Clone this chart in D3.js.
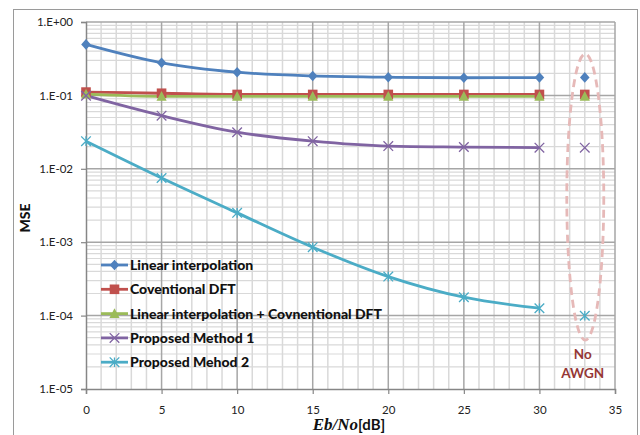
<!DOCTYPE html>
<html>
<head>
<meta charset="utf-8">
<script src="https://cdn.jsdelivr.net/npm/d3@7/dist/d3.min.js"></script>
<style>
  html, body { margin: 0; padding: 0; background: #fff; }
  svg { display: block; }
</style>
</head>
<body>
<div id="chart"></div>
<script>
// Eb/No values (dB) for the connected curves
const ebno = [0, 5, 10, 15, 20, 25, 30];
// Position of the noise-free (no AWGN) reference points
const noAwgnX = 33;

const seriesNames = [
  "Linear interpolation",
  "Coventional DFT",
  "Linear interpolation + Covnentional DFT",
  "Proposed Method 1",
  "Proposed Mehod 2"
];
const linearInterp   = [0.495, 0.278, 0.207, 0.184, 0.177, 0.174, 0.175];
const conventionalDft = [0.111, 0.107, 0.103, 0.103, 0.103, 0.103, 0.103];
const linearPlusDft  = [0.104, 0.097, 0.097, 0.097, 0.097, 0.097, 0.097];
const proposed1      = [0.099, 0.053, 0.0315, 0.0238, 0.0204, 0.0198, 0.0194];
const proposed2      = [0.0238, 0.0075, 0.00251, 0.000855, 0.00034, 0.000178, 0.000126];
// MSE without noise, one per series
const noAwgnValues   = [0.176, 0.103, 0.097, 0.0194, 0.0000995];

const xTicks = [0, 5, 10, 15, 20, 25, 30, 35];
const yTicks = [1, 0.1, 0.01, 0.001, 0.0001, 0.00001];
const yTickLabels = ["1.E+00", "1.E-01", "1.E-02", "1.E-03", "1.E-04", "1.E-05"];

const colors = ["#4f81bd", "#c0504d", "#9bbb59", "#8064a2", "#4bacc6"];
const markerKinds = ["diamond", "square", "triangle", "cross", "star"];
const allSeries = [linearInterp, conventionalDft, linearPlusDft, proposed1, proposed2];

const W = 640, H = 435;
const svg = d3.select("#chart").append("svg").attr("width", W).attr("height", H);

// chart frame
svg.append("rect")
  .attr("x", 13.5).attr("y", 9.5).attr("width", 624).attr("height", 440)
  .attr("fill", "#fff").attr("stroke", "#9a9a9a").attr("stroke-width", 1);

const x = d3.scaleLinear().domain([0, 35]).range([86, 615]);
const y = d3.scaleLog().domain([1e-5, 1]).range([389, 22]);

const grid = svg.append("g");
// minor vertical gridlines (every 1 dB)
grid.selectAll("line.vmin").data(d3.range(0, 36).filter(v => v % 5 !== 0))
  .join("line").attr("class", "vmin")
  .attr("x1", d => x(d)).attr("x2", d => x(d))
  .attr("y1", y(1)).attr("y2", y(1e-5))
  .attr("stroke", "#d9d9d9").attr("stroke-width", 1.5);
// minor horizontal gridlines (2..9 within each decade)
const minorY = [];
for (let e = -5; e < 0; e++) for (let m = 2; m <= 9; m++) minorY.push(m * Math.pow(10, e));
grid.selectAll("line.hmin").data(minorY)
  .join("line").attr("class", "hmin")
  .attr("x1", x(0)).attr("x2", x(35))
  .attr("y1", d => y(d)).attr("y2", d => y(d))
  .attr("stroke", "#d9d9d9").attr("stroke-width", 1.2);
// major vertical gridlines
grid.selectAll("line.vmaj").data(xTicks.slice(1))
  .join("line").attr("class", "vmaj")
  .attr("x1", d => x(d)).attr("x2", d => x(d))
  .attr("y1", y(1)).attr("y2", y(1e-5))
  .attr("stroke", "#a6a6a6").attr("stroke-width", 1.5);
// major horizontal gridlines
grid.selectAll("line.hmaj").data(yTicks.slice(0, 5))
  .join("line").attr("class", "hmaj")
  .attr("x1", x(0)).attr("x2", x(35))
  .attr("y1", d => y(d)).attr("y2", d => y(d))
  .attr("stroke", "#a6a6a6").attr("stroke-width", 1.5);

// axes
const yAxis = d3.axisLeft(y).tickValues(yTicks)
  .tickFormat((d, i) => yTickLabels[i]).tickSize(5).tickPadding(8);
const xAxis = d3.axisBottom(x).tickValues(xTicks).tickSize(5).tickPadding(12);

const gy = svg.append("g").attr("transform", `translate(${x(0)},0)`).call(yAxis);
const gx = svg.append("g").attr("transform", `translate(0,${y(1e-5)})`).call(xAxis);
[gx, gy].forEach(g => {
  g.select(".domain").attr("stroke", "#868686").attr("stroke-width", 1.5);
  g.selectAll(".tick line").attr("stroke", "#868686").attr("stroke-width", 1.2);
  g.selectAll(".tick text").attr("fill", "#222")
    .style("font-family", "Lato, 'Open Sans', sans-serif").style("font-size", "11.5px");
});

// marker drawing
function drawMarker(g, kind, color, cx, cy) {
  const s = 4.8;
  if (kind === "diamond") {
    g.append("path").attr("d", `M${cx},${cy - s - 0.5}L${cx + s},${cy}L${cx},${cy + s + 0.5}L${cx - s},${cy}Z`)
      .attr("fill", color);
  } else if (kind === "square") {
    g.append("rect").attr("x", cx - s).attr("y", cy - s).attr("width", 2 * s).attr("height", 2 * s)
      .attr("fill", color);
  } else if (kind === "triangle") {
    g.append("path").attr("d", `M${cx},${cy - s - 0.5}L${cx + s + 0.3},${cy + s - 0.5}L${cx - s - 0.3},${cy + s - 0.5}Z`)
      .attr("fill", color);
  } else if (kind === "cross") {
    g.append("path").attr("d", `M${cx - s},${cy - s}L${cx + s},${cy + s}M${cx - s},${cy + s}L${cx + s},${cy - s}`)
      .attr("stroke", color).attr("stroke-width", 1.3).attr("fill", "none");
  } else if (kind === "star") {
    g.append("path").attr("d", `M${cx - s},${cy - s}L${cx + s},${cy + s}M${cx - s},${cy + s}L${cx + s},${cy - s}M${cx},${cy - s}L${cx},${cy + s}`)
      .attr("stroke", color).attr("stroke-width", 1.3).attr("fill", "none");
  }
}

const line = d3.line().x(d => x(d[0])).y(d => y(d[1])).curve(d3.curveMonotoneX);

const plot = svg.append("g");
allSeries.forEach((vals, i) => {
  const pts = ebno.map((e, j) => [e, vals[j]]);
  plot.append("path").datum(pts).attr("d", line)
    .attr("fill", "none").attr("stroke", colors[i]).attr("stroke-width", 2.8)
    .attr("stroke-linejoin", "round");
});
allSeries.forEach((vals, i) => {
  const g = plot.append("g");
  ebno.forEach((e, j) => drawMarker(g, markerKinds[i], colors[i], x(e), y(vals[j])));
  drawMarker(g, markerKinds[i], colors[i], x(noAwgnX), y(noAwgnValues[i]));
});

// dashed ellipse around the noise-free points
svg.append("ellipse")
  .attr("cx", x(noAwgnX) + 0.5).attr("cy", 197).attr("rx", 18.5).attr("ry", 143)
  .attr("fill", "none").attr("stroke", "#e6b9b8").attr("stroke-width", 2.8)
  .attr("stroke-dasharray", "8,5");

const noText = svg.append("text").attr("text-anchor", "middle")
  .attr("fill", "#953735").style("font-family", "Lato, 'Open Sans', sans-serif")
  .style("font-size", "13.5px").style("font-weight", "bold");
noText.append("tspan").attr("x", x(noAwgnX) - 2).attr("y", 359).text("No");
noText.append("tspan").attr("x", x(noAwgnX) - 2).attr("y", 378).text("AWGN");

// legend
const legend = svg.append("g");
seriesNames.forEach((name, i) => {
  const ly = 265 + i * 24.3;
  legend.append("line").attr("x1", 101).attr("x2", 128).attr("y1", ly).attr("y2", ly)
    .attr("stroke", colors[i]).attr("stroke-width", 2.8);
  drawMarker(legend, markerKinds[i], colors[i], 114.5, ly);
  legend.append("text").attr("x", 130).attr("y", ly + 5)
    .attr("fill", "#111").style("font-family", "Lato, 'Open Sans', sans-serif")
    .style("font-size", "14px").style("font-weight", "900").text(name);
});

// axis titles
svg.append("text")
  .attr("transform", "translate(30,218) rotate(-90)")
  .attr("text-anchor", "middle").attr("fill", "#111")
  .style("font-family", "Lato, 'Open Sans', sans-serif")
  .style("font-size", "14px").style("font-weight", "900").text("MSE");

const xt = svg.append("text").attr("x", 349).attr("y", 430).attr("text-anchor", "middle")
  .attr("fill", "#111").style("font-weight", "bold");
xt.append("tspan").style("font-family", "'Liberation Serif', 'DejaVu Serif', serif")
  .style("font-style", "italic").style("font-size", "17px").text("Eb/No");
xt.append("tspan").style("font-family", "Lato, 'Open Sans', sans-serif")
  .style("font-size", "15px").text("[dB]");
</script>
</body>
</html>
